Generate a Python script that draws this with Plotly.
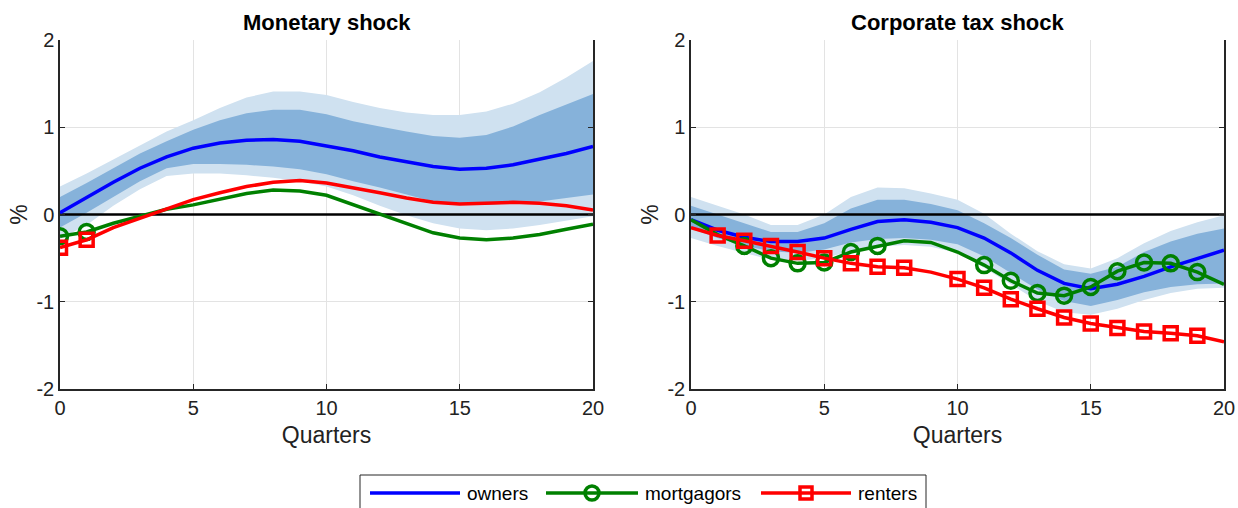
import plotly.graph_objects as go

# ---------------- data ----------------
quarters = list(range(21))

# Monetary shock
mon_owners = [0.02, 0.20, 0.37, 0.53, 0.66, 0.76, 0.82, 0.85, 0.86, 0.84, 0.79,
              0.73, 0.66, 0.60, 0.55, 0.52, 0.53, 0.57, 0.63, 0.70, 0.78]
mon_owners_hi68 = [0.20, 0.36, 0.53, 0.70, 0.84, 0.97, 1.08, 1.16, 1.20, 1.20, 1.15,
                   1.07, 1.01, 0.95, 0.90, 0.88, 0.91, 1.01, 1.14, 1.26, 1.38]
mon_owners_lo68 = [-0.15, 0.02, 0.20, 0.38, 0.53, 0.58, 0.58, 0.57, 0.55, 0.52, 0.46,
                   0.38, 0.31, 0.23, 0.15, 0.11, 0.11, 0.13, 0.15, 0.19, 0.23]
mon_owners_hi90 = [0.32, 0.47, 0.63, 0.79, 0.95, 1.08, 1.22, 1.34, 1.41, 1.41, 1.37,
                   1.29, 1.22, 1.17, 1.14, 1.14, 1.18, 1.27, 1.40, 1.57, 1.76]
mon_owners_lo90 = [-0.28, -0.12, 0.10, 0.29, 0.44, 0.47, 0.47, 0.45, 0.42, 0.38, 0.32,
                   0.22, 0.10, -0.01, -0.10, -0.16, -0.18, -0.16, -0.12, -0.07, -0.02]
mon_mortgagors = [-0.25, -0.20, -0.10, -0.02, 0.06, 0.11, 0.17, 0.24, 0.28, 0.27, 0.22,
                  0.11, 0.00, -0.11, -0.21, -0.27, -0.29, -0.27, -0.23, -0.17, -0.11]
mon_renters = [-0.38, -0.29, -0.15, -0.04, 0.07, 0.17, 0.25, 0.32, 0.37, 0.39, 0.36,
               0.31, 0.25, 0.19, 0.14, 0.12, 0.13, 0.14, 0.13, 0.10, 0.05]

# Corporate tax shock
tax_owners = [-0.06, -0.18, -0.26, -0.31, -0.31, -0.27, -0.17, -0.08, -0.06, -0.09, -0.15,
              -0.27, -0.44, -0.64, -0.79, -0.85, -0.80, -0.71, -0.60, -0.50, -0.41]
tax_owners_hi68 = [0.10, 0.00, -0.10, -0.20, -0.20, -0.10, 0.07, 0.17, 0.17, 0.12, 0.05,
                   -0.10, -0.27, -0.46, -0.63, -0.68, -0.60, -0.43, -0.31, -0.22, -0.16]
tax_owners_lo68 = [-0.16, -0.27, -0.36, -0.42, -0.44, -0.40, -0.32, -0.28, -0.27, -0.29, -0.34,
                   -0.48, -0.67, -0.86, -0.99, -1.05, -0.98, -0.89, -0.83, -0.80, -0.79]
tax_owners_hi90 = [0.20, 0.10, 0.00, -0.12, -0.12, 0.00, 0.20, 0.31, 0.30, 0.24, 0.17,
                   0.01, -0.22, -0.42, -0.57, -0.62, -0.50, -0.33, -0.19, -0.09, -0.01]
tax_owners_lo90 = [-0.27, -0.36, -0.44, -0.52, -0.53, -0.50, -0.42, -0.37, -0.35, -0.37, -0.44,
                   -0.61, -0.80, -0.99, -1.12, -1.15, -1.08, -0.98, -0.90, -0.85, -0.84]
tax_mortgagors = [-0.06, -0.23, -0.36, -0.50, -0.56, -0.55, -0.43, -0.36, -0.30, -0.32, -0.43,
                  -0.58, -0.76, -0.90, -0.93, -0.83, -0.65, -0.55, -0.56, -0.66, -0.80]
tax_renters = [-0.15, -0.24, -0.30, -0.36, -0.43, -0.50, -0.56, -0.60, -0.61, -0.66, -0.74,
               -0.84, -0.97, -1.08, -1.18, -1.25, -1.30, -1.34, -1.36, -1.39, -1.46]

# points that carry a marker in each panel
mon_mortgagor_marks = [0, 1]
mon_renter_marks = [0, 1]
tax_mortgagor_marks = [2, 3, 4, 5, 6, 7, 11, 12, 13, 14, 15, 16, 17, 18, 19]
tax_renter_marks = [1, 2, 3, 4, 5, 6, 7, 8, 10, 11, 12, 13, 14, 15, 16, 17, 18, 19]

panel_titles = ["Monetary shock", "Corporate tax shock"]
series_names = ["owners", "mortgagors", "renters"]
y_ticks = [-2, -1, 0, 1, 2]
y_tick_labels = ["-2", "-1", "0", "1", "2"]
x_ticks = [0, 5, 10, 15, 20]
x_tick_labels = ["0", "5", "10", "15", "20"]

# ---------------- style ----------------
FONT = "Liberation Sans, Arial, Helvetica, sans-serif"
BLUE, GREEN, RED = "#0000FF", "#008000", "#FF0000"
BAND_DARK = "rgb(134,178,218)"
BAND_LIGHT = "rgb(207,225,240)"
MSIZE = 13
TXT = "#222222"

fig = go.Figure()

panels = [
    dict(owners=mon_owners, hi68=mon_owners_hi68, lo68=mon_owners_lo68,
         hi90=mon_owners_hi90, lo90=mon_owners_lo90, mort=mon_mortgagors, rent=mon_renters,
         mmarks=mon_mortgagor_marks, rmarks=mon_renter_marks),
    dict(owners=tax_owners, hi68=tax_owners_hi68, lo68=tax_owners_lo68,
         hi90=tax_owners_hi90, lo90=tax_owners_lo90, mort=tax_mortgagors, rent=tax_renters,
         mmarks=tax_mortgagor_marks, rmarks=tax_renter_marks),
]

for i, p in enumerate(panels):
    xa = "x" if i == 0 else "x2"
    ya = "y" if i == 0 else "y2"
    common = dict(xaxis=xa, yaxis=ya, showlegend=False, hoverinfo="skip")
    # 90% band
    fig.add_trace(go.Scatter(x=quarters, y=p["lo90"], mode="lines", line=dict(width=0),
                             **common))
    fig.add_trace(go.Scatter(x=quarters, y=p["hi90"], mode="lines", line=dict(width=0),
                             fill="tonexty", fillcolor=BAND_LIGHT, **common))
    # 68% band
    fig.add_trace(go.Scatter(x=quarters, y=p["lo68"], mode="lines", line=dict(width=0),
                             **common))
    fig.add_trace(go.Scatter(x=quarters, y=p["hi68"], mode="lines", line=dict(width=0),
                             fill="tonexty", fillcolor=BAND_DARK, **common))
    # zero line
    fig.add_trace(go.Scatter(x=[quarters[0], quarters[-1]], y=[0, 0], mode="lines",
                             line=dict(color="black", width=2.5), **common))
    # owners
    fig.add_trace(go.Scatter(x=quarters, y=p["owners"], mode="lines",
                             line=dict(color=BLUE, width=3.5), **common))
    # mortgagors
    fig.add_trace(go.Scatter(x=quarters, y=p["mort"], mode="lines",
                             line=dict(color=GREEN, width=3.5), **common))
    fig.add_trace(go.Scatter(x=[quarters[k] for k in p["mmarks"]],
                             y=[p["mort"][k] for k in p["mmarks"]], mode="markers",
                             marker=dict(symbol="circle-open", size=MSIZE + 2, color=GREEN,
                                         line=dict(width=3.5, color=GREEN)),
                             cliponaxis=True, **common))
    # renters
    fig.add_trace(go.Scatter(x=quarters, y=p["rent"], mode="lines",
                             line=dict(color=RED, width=3.5), **common))
    fig.add_trace(go.Scatter(x=[quarters[k] for k in p["rmarks"]],
                             y=[p["rent"][k] for k in p["rmarks"]], mode="markers",
                             marker=dict(symbol="square-open", size=MSIZE, color=RED,
                                         line=dict(width=3.5, color=RED)),
                             cliponaxis=True, **common))

W, H = 1238, 508
ytop, ybot = 1 - 40 / H, 1 - 389 / H
domains = [[60 / W, 593 / W], [691 / W, 1224 / W]]

axis_common_x = dict(range=[0, 20], tickvals=x_ticks, ticktext=x_tick_labels,
                     automargin=False,
                     showgrid=True, gridcolor="#e3e3e3", gridwidth=1,
                     showline=True, linecolor="#262626", linewidth=1.5, mirror=False,
                     ticks="inside", ticklen=5, tickcolor="#262626", zeroline=False,
                     tickfont=dict(family=FONT, size=20, color=TXT),
                     title=dict(text="Quarters", font=dict(family=FONT, size=23, color=TXT),
                                standoff=9))
axis_common_y = dict(range=[-2, 2], tickvals=y_ticks, ticktext=y_tick_labels,
                     automargin=False,
                     showgrid=True, gridcolor="#e3e3e3", gridwidth=1,
                     showline=True, linecolor="#262626", linewidth=1.5, mirror="ticks",
                     ticks="inside", ticklen=5, tickcolor="#262626", zeroline=False,
                     tickfont=dict(family=FONT, size=20, color=TXT),
                     title=dict(text="%", font=dict(family=FONT, size=23, color=TXT),
                                standoff=2))

fig.update_layout(
    width=W, height=H,
    margin=dict(l=0, r=0, t=0, b=0),
    paper_bgcolor="white", plot_bgcolor="white",
    showlegend=False,
    xaxis=dict(domain=domains[0], anchor="y", **axis_common_x),
    yaxis=dict(domain=[ybot, ytop], anchor="x", **axis_common_y),
    xaxis2=dict(domain=domains[1], anchor="y2", **axis_common_x),
    yaxis2=dict(domain=[ybot, ytop], anchor="x2", **axis_common_y),
)

# panel titles
for i, t in enumerate(panel_titles):
    cx = (domains[i][0] + domains[i][1]) / 2
    fig.add_annotation(text="<b>%s</b>" % t, x=cx, y=1 - 22 / H, xref="paper", yref="paper",
                       xanchor="center", yanchor="middle", showarrow=False,
                       font=dict(family=FONT, size=22, color="black"))

# ---------------- manual legend (MATLAB style) ----------------
def px(x):
    return x / W


def py(y):
    return 1 - y / H


fig.add_shape(type="rect", xref="paper", yref="paper", x0=px(360), x1=px(926),
              y0=py(475), y1=py(520), line=dict(color="#262626", width=1),
              fillcolor="white", layer="above")
legend_y = 493
entries = [
    (series_names[0], BLUE, None, 370, 460, 465),
    (series_names[1], GREEN, "circle", 546, 638, 643),
    (series_names[2], RED, "square", 761, 851, 856),
]
for name, col, sym, lx0, lx1, tx in entries:
    fig.add_shape(type="line", xref="paper", yref="paper", x0=px(lx0), x1=px(lx1),
                  y0=py(legend_y), y1=py(legend_y), line=dict(color=col, width=3.5),
                  layer="above")
    cx = (lx0 + lx1) / 2
    if sym == "circle":
        r = 7
        fig.add_shape(type="circle", xref="paper", yref="paper", x0=px(cx - r), x1=px(cx + r),
                      y0=py(legend_y + r), y1=py(legend_y - r),
                      line=dict(color=col, width=3.5), fillcolor="rgba(0,0,0,0)", layer="above")
    elif sym == "square":
        r = 6
        fig.add_shape(type="rect", xref="paper", yref="paper", x0=px(cx - r), x1=px(cx + r),
                      y0=py(legend_y + r), y1=py(legend_y - r),
                      line=dict(color=col, width=3.5), fillcolor="rgba(0,0,0,0)", layer="above")
    fig.add_annotation(text=name, x=px(tx), y=py(legend_y), xref="paper", yref="paper",
                       xanchor="left", yanchor="middle", showarrow=False,
                       font=dict(family=FONT, size=19, color="black"))

fig.write_html("out.html")
